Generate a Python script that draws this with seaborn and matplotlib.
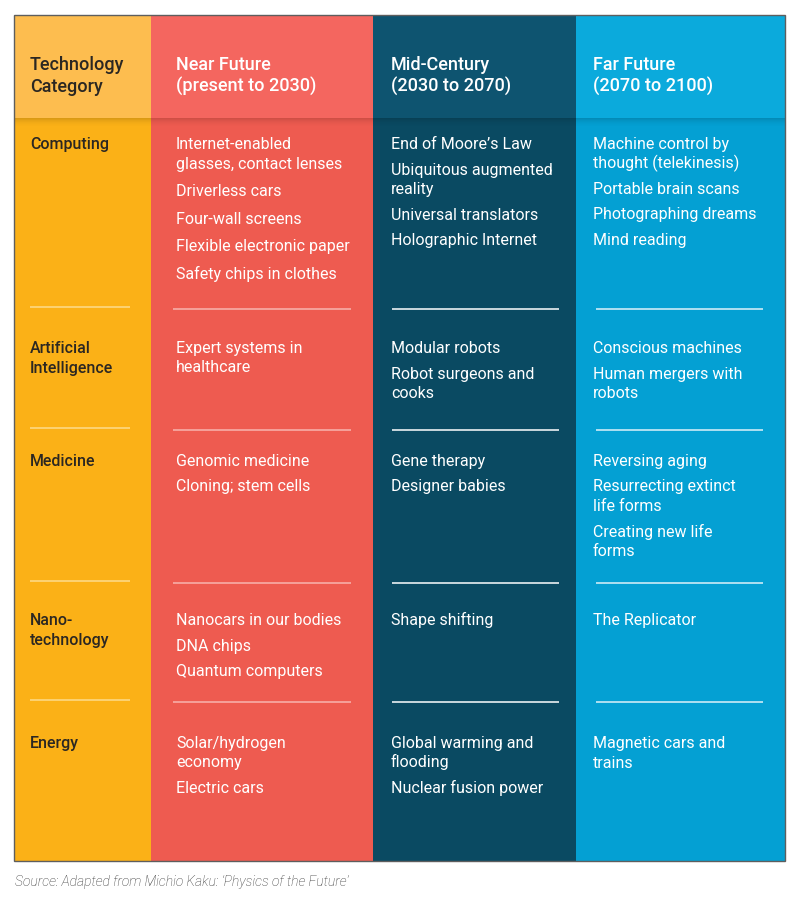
import seaborn as sns
import matplotlib.pyplot as plt
from matplotlib.patches import Rectangle

# table content
headers = ["Technology\nCategory", "Near Future\n(present to 2030)",
           "Mid-Century\n(2030 to 2070)", "Far Future\n(2070 to 2100)"]
categories = ["Computing", "Artificial\nIntelligence", "Medicine",
              "Nano-\ntechnology", "Energy"]
near = [
    ["Internet-enabled\nglasses, contact lenses", "Driverless cars",
     "Four-wall screens", "Flexible electronic paper", "Safety chips in clothes"],
    ["Expert systems in\nhealthcare"],
    ["Genomic medicine", "Cloning; stem cells"],
    ["Nanocars in our bodies", "DNA chips", "Quantum computers"],
    ["Solar/hydrogen\neconomy", "Electric cars"],
]
mid = [
    ["End of Moore\u2019s Law", "Ubiquitous augmented\nreality",
     "Universal translators", "Holographic Internet"],
    ["Modular robots", "Robot surgeons and\ncooks"],
    ["Gene therapy", "Designer babies"],
    ["Shape shifting"],
    ["Global warming and\nflooding", "Nuclear fusion power"],
]
far = [
    ["Machine control by\nthought (telekinesis)", "Portable brain scans",
     "Photographing dreams", "Mind reading"],
    ["Conscious machines", "Human mergers with\nrobots"],
    ["Reversing aging", "Resurrecting extinct\nlife forms", "Creating new life\nforms"],
    ["The Replicator"],
    ["Magnetic cars and\ntrains"],
]
source = "Source: Adapted from Michio Kaku: \u2018Physics of the Future\u2019"

header_colors = ["#FDBD4F", "#F4665F", "#0E5470", "#0BAADC"]
body_colors = ["#FBB117", "#EE5B50", "#0A4A62", "#04A0D3"]
sep_colors = ["#FDDC8C", "#F8B5AE", "#FFFFFF", "#DDF2FA"]

# layout (pixels)
col_x = [14, 151, 373, 576, 785]
text_x = [30, 176, 391, 593]
sep_x = [(30, 130), (173, 351), (392, 559), (596, 763)]
top, head_bot, bottom = 15, 118, 861
row_y = [143, 347, 460, 619, 742]
sep_y = [309, 430, 583, 702]

sns.set_theme(style="white")
plt.rcParams["font.family"] = ["Roboto", "DejaVu Sans"]

fig = plt.figure(figsize=(8, 9.14), dpi=100)
ax = fig.add_axes([0, 0, 1, 1])
ax.set_xlim(0, 800)
ax.set_ylim(914, 0)
ax.axis("off")

# column bodies
for i in range(4):
    ax.add_patch(Rectangle((col_x[i], head_bot), col_x[i + 1] - col_x[i],
                           bottom - head_bot, color=body_colors[i], lw=0))

# header drop shadow
for k in range(9):
    ax.add_patch(Rectangle((col_x[0], head_bot + k), col_x[-1] - col_x[0], 1,
                           color="black", alpha=0.13 * (1 - k / 9) ** 2, lw=0))

# header cells
for i in range(4):
    ax.add_patch(Rectangle((col_x[i], top), col_x[i + 1] - col_x[i],
                           head_bot - top, color=header_colors[i], lw=0))
    color = "#2B2722" if i == 0 else "white"
    for j, line in enumerate(headers[i].split("\n")):
        ax.text(text_x[i], 70 + 22 * j, line, fontsize=13, fontweight="medium",
                color=color, va="baseline", ha="left")

# separators
for i in range(4):
    off = -2 if i == 0 else 0
    ax.hlines([y + off for y in sep_y], sep_x[i][0], sep_x[i][1],
              color=sep_colors[i], lw=1.1)

# category labels
for r, cat in enumerate(categories):
    for j, line in enumerate(cat.split("\n")):
        ax.text(text_x[0], row_y[r] + 6 + 20 * j, line, fontsize=11.5,
                fontweight="medium", color="#2B2722", va="baseline")

# cell items
for c, col in enumerate([near, mid, far], start=1):
    for r, items in enumerate(col):
        gap = 27.5 if (r == 0 and c == 1) else 25.5
        y = row_y[r] + 6
        for item in items:
            lines = item.split("\n")
            for j, line in enumerate(lines):
                ax.text(text_x[c], y + 19.5 * j, line, fontsize=11.5,
                        color="white", va="baseline")
            y += 19.5 * (len(lines) - 1) + gap

# border
ax.add_patch(Rectangle((col_x[0], top), col_x[-1] - col_x[0], bottom - top,
                       fill=False, edgecolor="#5E5E5E", lw=1))

ax.text(15, 886, source, fontsize=10, fontstyle="italic", fontweight="light",
        color="#333333", va="baseline")

fig.savefig("out.png", dpi=100)
